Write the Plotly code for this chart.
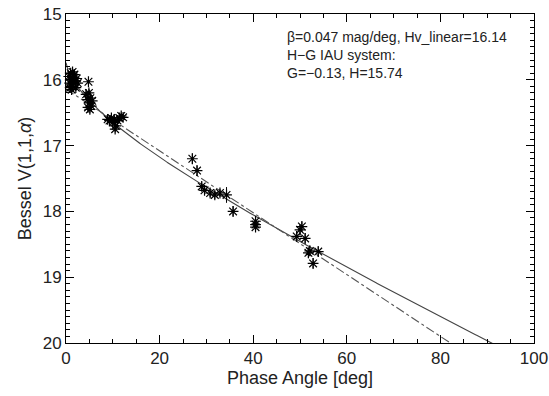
import numpy as np
import plotly.graph_objects as go

# Observed phase angles [deg], reduced magnitudes and their uncertainties
phase = [0.6, 0.8, 0.9, 1.0, 1.1, 1.2, 1.3, 1.4, 1.5, 1.6, 1.8, 2.0, 2.1, 2.3, 2.5,
         4.8,
         4.3, 4.6, 4.7, 4.9, 5.0, 5.1, 5.2, 5.4, 5.6,
         8.9, 9.3, 9.7, 10.0, 10.3, 10.5, 10.6, 11.0, 11.4, 11.8, 12.2,
         27.0, 28.0, 29.0, 29.6, 30.8, 31.8, 32.9, 34.3, 35.7,
         40.5, 40.5, 40.5,
         49.3, 50.0, 50.4, 51.1, 51.8, 52.1, 52.8, 53.9]
mag = [15.95, 16.05, 16.12, 15.90, 16.00, 16.15, 16.10, 15.88, 15.97, 16.05, 15.92, 16.02, 16.12, 15.98, 16.05,
       16.03,
       16.22, 16.30, 16.42, 16.20, 16.35, 16.45, 16.28, 16.40, 16.32,
       16.60, 16.62, 16.58, 16.65, 16.60, 16.75, 16.70, 16.62, 16.58, 16.55, 16.57,
       17.20, 17.38, 17.62, 17.68, 17.72, 17.75, 17.72, 17.75, 18.00,
       18.15, 18.20, 18.24,
       18.38, 18.28, 18.23, 18.41, 18.63, 18.60, 18.79, 18.61]
mag_err = [0.05, 0.05, 0.05, 0.05, 0.05, 0.05, 0.05, 0.05, 0.05, 0.05, 0.05, 0.05, 0.05, 0.05, 0.05,
           0.05,
           0.06, 0.06, 0.06, 0.06, 0.06, 0.06, 0.06, 0.06, 0.06,
           0.05, 0.05, 0.05, 0.05, 0.05, 0.05, 0.05, 0.05, 0.05, 0.05, 0.05,
           0.08, 0.08, 0.06, 0.06, 0.06, 0.06, 0.06, 0.12, 0.08,
           0.05, 0.05, 0.05,
           0.08, 0.08, 0.08, 0.08, 0.08, 0.08, 0.08, 0.08]

# Fit parameters
beta = 0.047        # linear phase coefficient [mag/deg]
hv_linear = 16.14   # linear-fit absolute magnitude
G = -0.13           # H-G slope parameter
H = 15.74           # H-G absolute magnitude

x_tick_vals = [0, 20, 40, 60, 80, 100]
y_tick_vals = [15, 16, 17, 18, 19, 20]

# Model curves
alpha = np.linspace(0, 100, 401)
lin_model = hv_linear + beta * alpha
t = np.tan(np.radians(alpha) / 2.0)
phi1 = np.exp(-3.33 * t ** 0.63)
phi2 = np.exp(-1.87 * t ** 1.22)
hg_model = H - 2.5 * np.log10((1 - G) * phi1 + G * phi2)

FONT = "Liberation Sans"
INK = "#222222"

fig = go.Figure()
fig.add_trace(go.Scatter(x=alpha, y=hg_model, mode="lines",
                         line=dict(color="#444444", width=1.1), hoverinfo="skip"))
fig.add_trace(go.Scatter(x=alpha, y=lin_model, mode="lines",
                         line=dict(color="#555555", width=1.1, dash="dashdot"), hoverinfo="skip"))
fig.add_trace(go.Scatter(x=phase, y=mag, mode="markers",
                         marker=dict(symbol="asterisk-open", size=9, color="black",
                                     line=dict(color="black", width=1.2)),
                         error_y=dict(type="data", array=mag_err, color="black",
                                      thickness=1, width=0),
                         cliponaxis=False))

fig.add_annotation(
    xref="paper", yref="paper", x=0.468, y=0.962, xanchor="left", yanchor="top",
    align="left", showarrow=False,
    text=f"β={beta} mag/deg, Hv_linear={hv_linear}<br>H−G IAU system:<br>G=−{abs(G)}, H={H}",
    font=dict(family=FONT, size=14, color=INK),
)

axis_common = dict(
    showgrid=False, zeroline=False, showline=True, linecolor="black", linewidth=1,
    mirror="ticks", ticks="inside", ticklen=8, tickcolor="black", tickwidth=1,
    tickfont=dict(family=FONT, size=17, color=INK), automargin=False,
)

fig.update_xaxes(range=[0, 100], tickvals=x_tick_vals,
                 minor=dict(dtick=5, ticklen=4, ticks="inside", tickcolor="black"),
                 title=dict(text="Phase Angle [deg]", standoff=2,
                            font=dict(family=FONT, size=18, color=INK)),
                 **axis_common)
fig.update_yaxes(range=[20, 15], tickvals=y_tick_vals,
                 minor=dict(dtick=0.1, ticklen=4, ticks="inside", tickcolor="black"),
                 title=dict(text="Bessel V(1,1,<i>α</i>)", standoff=6,
                            font=dict(family=FONT, size=18, color=INK)),
                 **axis_common)

fig.update_layout(
    width=549, height=396, showlegend=False,
    margin=dict(l=66, r=15, t=14, b=53),
    paper_bgcolor="white", plot_bgcolor="white",
)

fig.write_html("out.html")
